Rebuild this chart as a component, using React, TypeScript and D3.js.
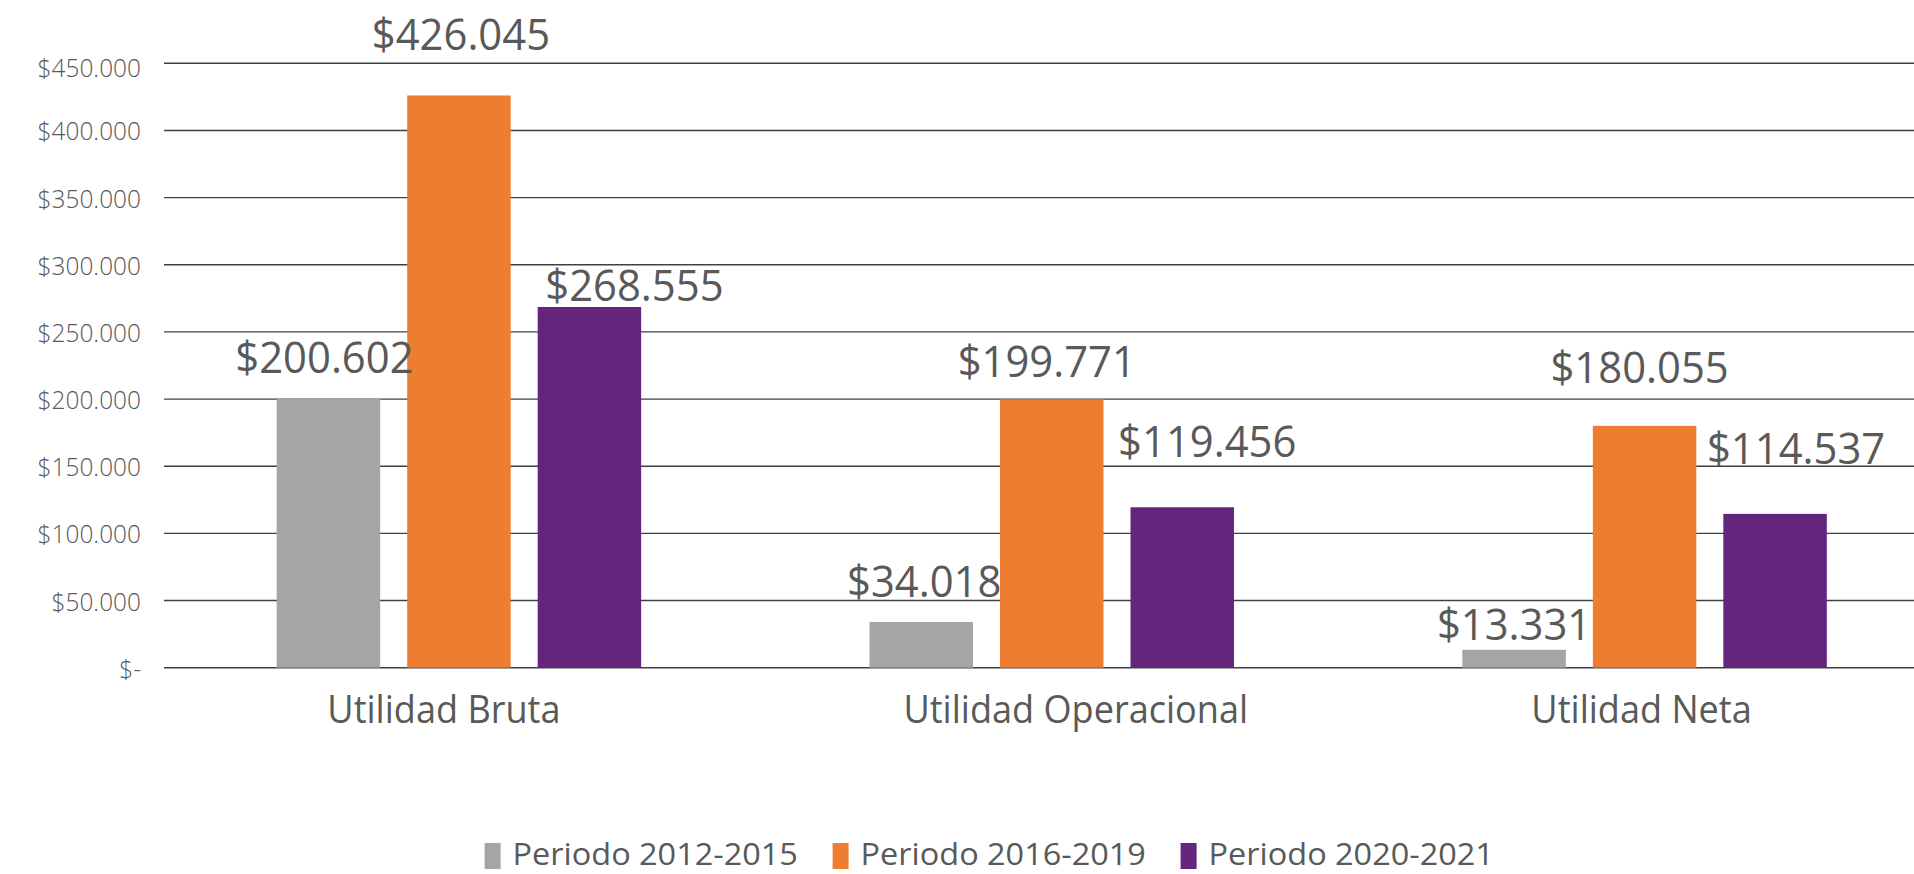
import React from "react";
import * as d3 from "d3";

// ---- data ----
const categories = ["Utilidad Bruta", "Utilidad Operacional", "Utilidad Neta"];
const seriesNames = ["Periodo 2012-2015", "Periodo 2016-2019", "Periodo 2020-2021"];
const periodo2012_2015 = [200602, 34018, 13331];
const periodo2016_2019 = [426045, 199771, 180055];
const periodo2020_2021 = [268555, 119456, 114537];
const yTicks = [0, 50000, 100000, 150000, 200000, 250000, 300000, 350000, 400000, 450000];

// ---- style / layout ----
const seriesColors = ["#A5A5A4", "#ED7D31", "#64257D"];
const textColor = "#595959";
const FONT = "'Open Sans', 'Noto Sans', sans-serif";
// manual label nudges (dx from bar centre, dy from bar top to baseline)
const labelNudges = [
  [[-4, -25], [3, -25], [0, -10]],
  [[2, -45], [-5, -22], [-5, -43]],
  [[45, -6], [25, -50], [21, -50]],
];
const categoryNudges = [-15, 24, -3];

const W = 1914;
const H = 874;

export default function App() {
  const series = [periodo2012_2015, periodo2016_2019, periodo2020_2021];
  const x0 = d3.scaleBand<string>().domain(categories).range([162.5, 1941]).padding(0);
  const x1 = d3
    .scaleBand<number>()
    .domain([0, 1, 2])
    .range([0, x0.bandwidth()])
    .paddingInner(0.207)
    .paddingOuter(0.875);
  const y = d3.scaleLinear().domain([0, 450000]).range([667.7, 63.3]);

  const loc = d3.formatLocale({
    decimal: ",",
    thousands: ".",
    grouping: [3],
    currency: ["$", ""],
  });
  const fmt = loc.format("$,");
  const tickFmt = (v: number) => (v === 0 ? "$-" : fmt(v));

  const legendX = d3.scaleLinear().domain([0, 1]).range([484.6, 832.6]);

  return (
    <svg
      width={W}
      height={H}
      style={{ position: "absolute", left: 0, top: 0, display: "block", background: "#fff" }}
    >
      {/* gridlines */}
      {yTicks.map((t) => (
        <line
          key={"g" + t}
          x1={164}
          x2={W}
          y1={y(t)}
          y2={y(t)}
          stroke="#404040"
          strokeWidth={1.4}
        />
      ))}
      {/* y tick labels */}
      {yTicks.map((t) => (
        <text
          key={"t" + t}
          transform={`translate(141,${y(t) + (t === 450000 ? 14 : 10)}) scale(0.94,1)`}
          textAnchor="end"
          fontFamily={FONT}
          fontWeight={300}
          fontSize={26}
          fill={textColor}
        >
          {tickFmt(t)}
        </text>
      ))}
      {/* bars */}
      {categories.map((c, ci) =>
        series.map((s, si) => (
          <rect
            key={`b${ci}-${si}`}
            x={(x0(c) as number) + (x1(si) as number)}
            y={y(s[ci])}
            width={x1.bandwidth()}
            height={y(0) - y(s[ci])}
            fill={seriesColors[si]}
          />
        ))
      )}
      {/* value labels */}
      {categories.map((c, ci) =>
        series.map((s, si) => {
          const cx = (x0(c) as number) + (x1(si) as number) + x1.bandwidth() / 2 + labelNudges[si][ci][0];
          const by = y(s[ci]) + labelNudges[si][ci][1];
          return (
            <text
              key={`l${ci}-${si}`}
              transform={`translate(${cx},${by}) scale(0.95,1)`}
              textAnchor="middle"
              fontFamily={FONT}
              fontWeight={500}
              fontSize={44}
              fill={textColor}
            >
              {fmt(s[ci])}
            </text>
          );
        })
      )}
      {/* category labels */}
      {categories.map((c, ci) => (
        <text
          key={"c" + c}
          transform={`translate(${(x0(c) as number) + x0.bandwidth() / 2 + categoryNudges[ci]},723.3) scale(0.95,1)`}
          textAnchor="middle"
          fontFamily={FONT}
          fontWeight={500}
          fontSize={38}
          fill={textColor}
        >
          {c}
        </text>
      ))}
      {/* legend */}
      {seriesNames.map((n, i) => (
        <g key={"lg" + n} transform={`translate(${legendX(i)},0)`}>
          <rect x={0} y={843} width={16} height={26} fill={seriesColors[i]} />
          <text
            transform={`translate(28,865) scale(1.03,1)`}
            fontFamily={FONT}
            fontWeight={500}
            fontSize={31.5}
            fill={textColor}
          >
            {n}
          </text>
        </g>
      ))}
    </svg>
  );
}
